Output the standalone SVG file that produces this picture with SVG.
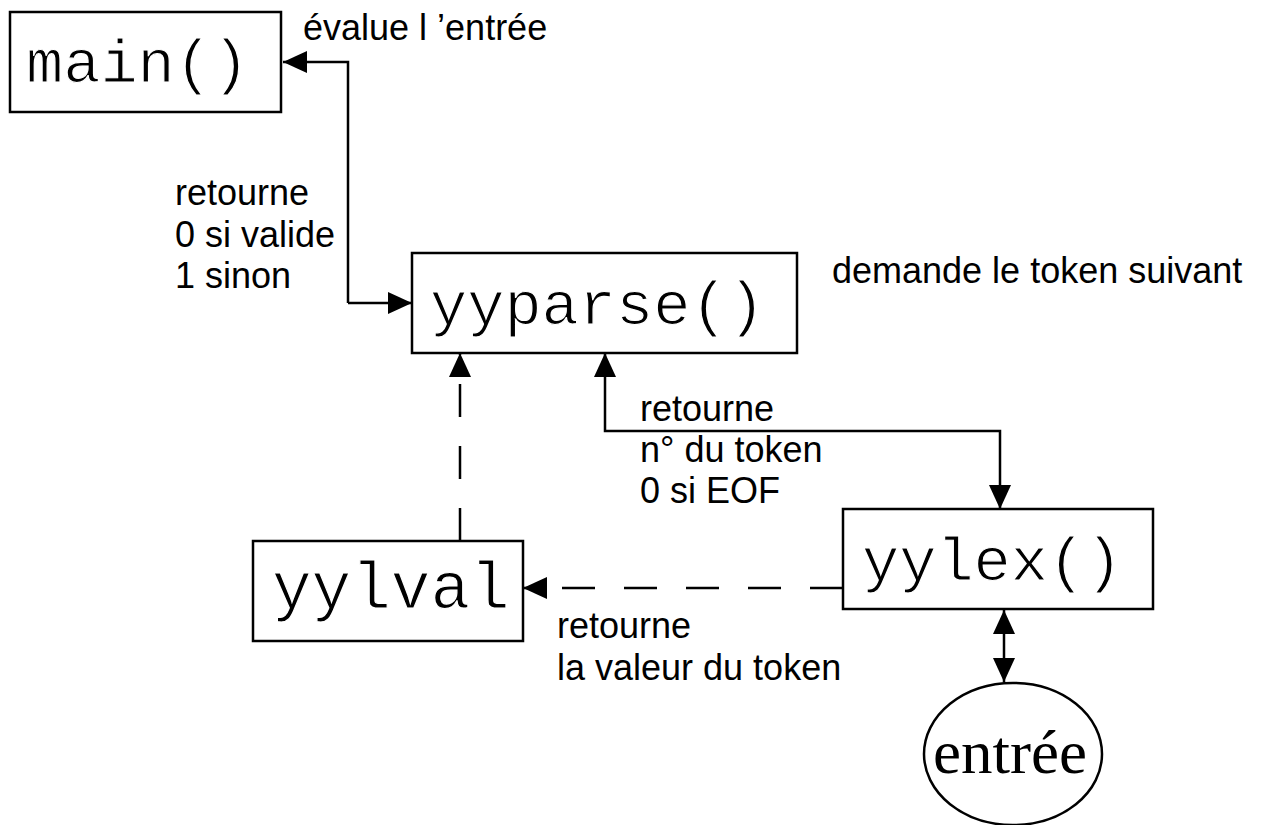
<svg xmlns="http://www.w3.org/2000/svg" width="1263" height="825" viewBox="0 0 1263 825">
<style>
.box{fill:#fff;stroke:#000;stroke-width:2.5}
.mono{font-family:"Liberation Mono","Courier New",monospace;fill:#000;stroke:#fff;stroke-width:1.2}
.lbl{font-family:"Liberation Sans",Arial,sans-serif;font-size:36px;fill:#000}
.ln{fill:none;stroke:#000;stroke-width:2.5}
.dash{stroke-dasharray:33 29}
</style>
<defs>
<marker id="ah" markerUnits="userSpaceOnUse" markerWidth="24" markerHeight="22" refX="24" refY="11" orient="auto-start-reverse">
<path d="M0,0 L24,11 L0,22 Z" fill="#000"/>
</marker>
</defs>
<rect width="1263" height="825" fill="#fff"/>
<g id="connectors">
<path class="ln" d="M348,303 V62 H283" marker-end="url(#ah)"/>
<path class="ln" d="M348,303 H412" marker-end="url(#ah)"/>
<path class="ln" d="M1000,509 V431 H605 V353" marker-start="url(#ah)" marker-end="url(#ah)"/>
<path class="ln dash" d="M460,541 V353" marker-end="url(#ah)"/>
<path class="ln dash" d="M843,588 H523" marker-end="url(#ah)"/>
<path class="ln" d="M1004,610 V682" marker-start="url(#ah)" marker-end="url(#ah)"/>
</g>
<g id="main">
<rect class="box" x="10" y="12" width="271" height="100"/>
<text class="mono" x="26" y="82" font-size="62">main()</text>
</g>
<g id="yyparse">
<rect class="box" x="412" y="253" width="385" height="100"/>
<text class="mono" x="430" y="324" font-size="62">yyparse()</text>
</g>
<g id="yylval">
<rect class="box" x="253" y="541" width="270" height="100"/>
<text class="mono" x="272" y="608" font-size="66">yylval</text>
</g>
<g id="yylex">
<rect class="box" x="843" y="509" width="310" height="100"/>
<text class="mono" x="862" y="580" font-size="62">yylex()</text>
</g>
<g id="entree">
<ellipse cx="1013" cy="754" rx="89" ry="71" fill="#fff" stroke="#000" stroke-width="2.5"/>
<text x="933" y="773" textLength="154" lengthAdjust="spacingAndGlyphs" font-family="'Liberation Serif','Times New Roman',serif" font-size="62">entrée</text>
</g>
<g id="labels">
<text class="lbl" x="303" y="40">évalue l ’entrée</text>
<text class="lbl" x="175" y="205">retourne</text>
<text class="lbl" x="175" y="247">0 si valide</text>
<text class="lbl" x="175" y="288">1 sinon</text>
<text class="lbl" x="832" y="283" font-size="37">demande le token suivant</text>
<text class="lbl" x="640" y="421">retourne</text>
<text class="lbl" x="640" y="462">n° du token</text>
<text class="lbl" x="640" y="503">0 si EOF</text>
<text class="lbl" x="557" y="638">retourne</text>
<text class="lbl" x="557" y="680">la valeur du token</text>
</g>
</svg>
